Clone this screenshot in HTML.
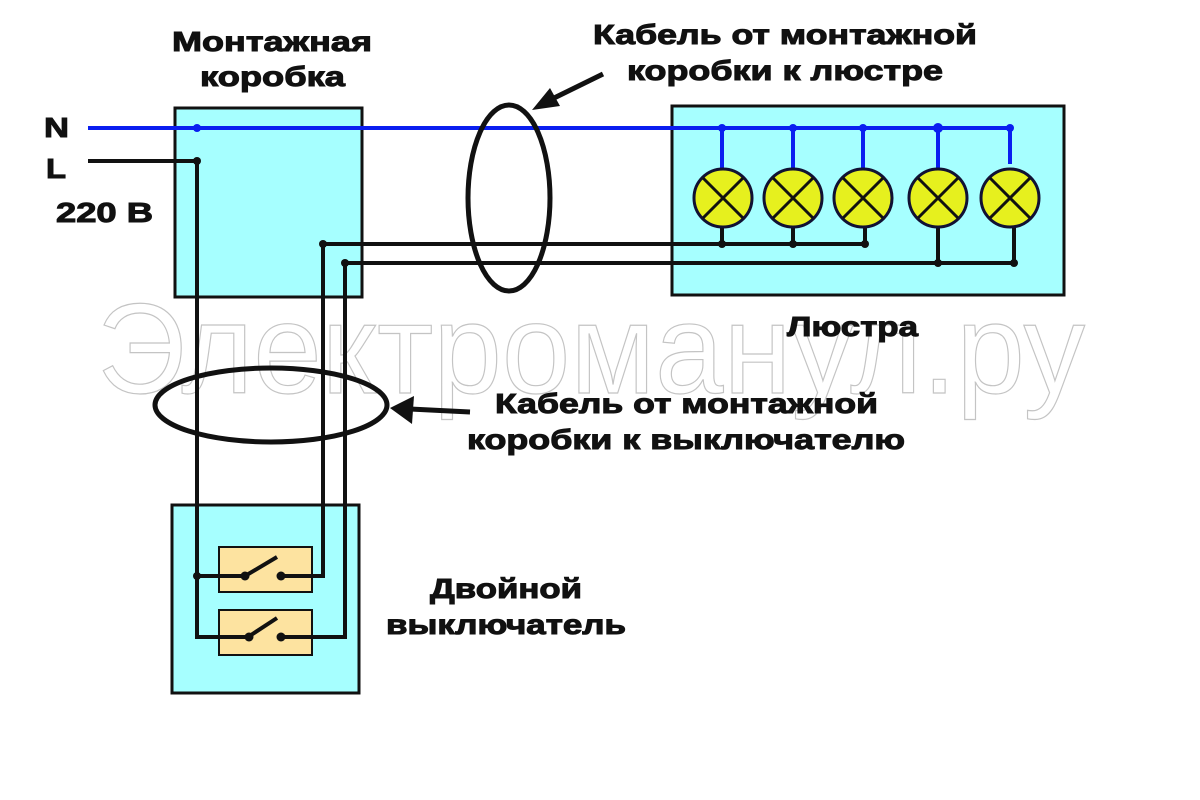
<!DOCTYPE html>
<html><head><meta charset="utf-8"><style>
html,body{margin:0;padding:0;background:#fff;}
svg{display:block;}
text{font-family:"Liberation Sans","DejaVu Sans",sans-serif;font-weight:bold;}
</style></head><body>
<svg width="1200" height="800" viewBox="0 0 1200 800" xmlns="http://www.w3.org/2000/svg">
<rect width="1200" height="800" fill="#fff"/>
<rect x="175" y="108" width="187" height="189" fill="#a6ffff" stroke="#111" stroke-width="3"/>
<rect x="672" y="106" width="392" height="189" fill="#a6ffff" stroke="#111" stroke-width="3"/>
<rect x="172" y="505" width="187" height="188" fill="#a6ffff" stroke="#111" stroke-width="3"/>
<text x="97" y="393" font-size="128" fill="none" stroke="#c4c4c4" stroke-width="1.2" textLength="988" lengthAdjust="spacingAndGlyphs" style="font-weight:normal">Электроманул.ру</text>
<rect x="219" y="547" width="93" height="45" fill="#fde3a0" stroke="#111" stroke-width="2"/>
<rect x="219" y="610" width="93" height="45" fill="#fde3a0" stroke="#111" stroke-width="2"/>
<g stroke="#0a1ef0" stroke-width="4" fill="none">
<line x1="88" y1="128" x2="1010" y2="128"/>
<line x1="722" y1="128" x2="722" y2="170"/>
<line x1="793" y1="128" x2="793" y2="170"/>
<line x1="863" y1="128" x2="863" y2="170"/>
<line x1="938" y1="128" x2="938" y2="170"/>
<line x1="1010" y1="128" x2="1010" y2="164"/>
</g>
<g fill="#0a1ef0"><circle cx="197" cy="128" r="4"/><circle cx="722" cy="128" r="4"/><circle cx="793" cy="128" r="4"/><circle cx="863" cy="128" r="4"/><circle cx="938" cy="128" r="5"/><circle cx="1010" cy="128" r="4"/></g>
<g stroke="#111" stroke-width="4" fill="none">
<polyline points="88,161 197,161 197,637 250,637"/>
<polyline points="197,576 245,576"/>
<polyline points="281,576 323,576 323,244 865,244"/>
<polyline points="281,637 345,637 345,263 1014,263"/>
<line x1="722" y1="226" x2="722" y2="244"/>
<line x1="793" y1="226" x2="793" y2="244"/>
<line x1="865" y1="226" x2="865" y2="244"/>
<line x1="938" y1="226" x2="938" y2="263"/>
<line x1="1014" y1="226" x2="1014" y2="263"/>
<line x1="245" y1="576" x2="277" y2="557"/>
<line x1="248" y1="637" x2="277" y2="618"/>
</g>
<g fill="#111"><circle cx="197" cy="161" r="4"/><circle cx="197" cy="576" r="4"/><circle cx="245" cy="576" r="4.5"/><circle cx="281" cy="576" r="4.5"/><circle cx="249" cy="637" r="4.5"/><circle cx="281" cy="637" r="4.5"/>
<circle cx="323" cy="244" r="4"/><circle cx="345" cy="263" r="4"/><circle cx="722" cy="244" r="4"/><circle cx="793" cy="244" r="4"/><circle cx="865" cy="244" r="4"/><circle cx="938" cy="263" r="4"/><circle cx="1014" cy="263" r="4"/></g>
<g stroke="#113" stroke-width="3" fill="#e6f01e">
<circle cx="723" cy="198" r="29"/><circle cx="793" cy="198" r="29"/><circle cx="863" cy="198" r="29"/><circle cx="938" cy="198" r="29"/><circle cx="1010" cy="198" r="29"/>
</g>
<g stroke="#111" stroke-width="3">
<path d="M703 178 L743 218 M743 178 L703 218"/><path d="M773 178 L813 218 M813 178 L773 218"/><path d="M843 178 L883 218 M883 178 L843 218"/><path d="M918 178 L958 218 M958 178 L918 218"/><path d="M990 178 L1030 218 M1030 178 L990 218"/>
</g>
<ellipse cx="509" cy="198" rx="41" ry="93" fill="none" stroke="#111" stroke-width="5"/>
<ellipse cx="271" cy="405" rx="116" ry="37" fill="none" stroke="#111" stroke-width="5"/>
<line x1="603" y1="74" x2="550" y2="100" stroke="#111" stroke-width="5"/>
<polygon points="532,110 550,88 560,106" fill="#111"/>
<line x1="470" y1="412" x2="410" y2="409" stroke="#111" stroke-width="5"/>
<polygon points="390,408 414,396 412,424" fill="#111"/>
<g fill="#111" stroke="#111" stroke-width="1" font-size="28">
<text x="172" y="51" textLength="200" lengthAdjust="spacingAndGlyphs">Монтажная</text>
<text x="200" y="86" textLength="145" lengthAdjust="spacingAndGlyphs">коробка</text>
<text x="593" y="44" textLength="384" lengthAdjust="spacingAndGlyphs">Кабель от монтажной</text>
<text x="627" y="80" textLength="316" lengthAdjust="spacingAndGlyphs">коробки к люстре</text>
<text x="44" y="137" textLength="25" lengthAdjust="spacingAndGlyphs">N</text>
<text x="46" y="178" textLength="20" lengthAdjust="spacingAndGlyphs">L</text>
<text x="56" y="222" textLength="97" lengthAdjust="spacingAndGlyphs">220 В</text>
<text x="787" y="336" textLength="131" lengthAdjust="spacingAndGlyphs">Люстра</text>
<text x="495" y="413" textLength="383" lengthAdjust="spacingAndGlyphs">Кабель от монтажной</text>
<text x="467" y="449" textLength="438" lengthAdjust="spacingAndGlyphs">коробки к выключателю</text>
<text x="430" y="598" textLength="152" lengthAdjust="spacingAndGlyphs">Двойной</text>
<text x="386" y="634" textLength="240" lengthAdjust="spacingAndGlyphs">выключатель</text>
</g>
</svg>
</body></html>
